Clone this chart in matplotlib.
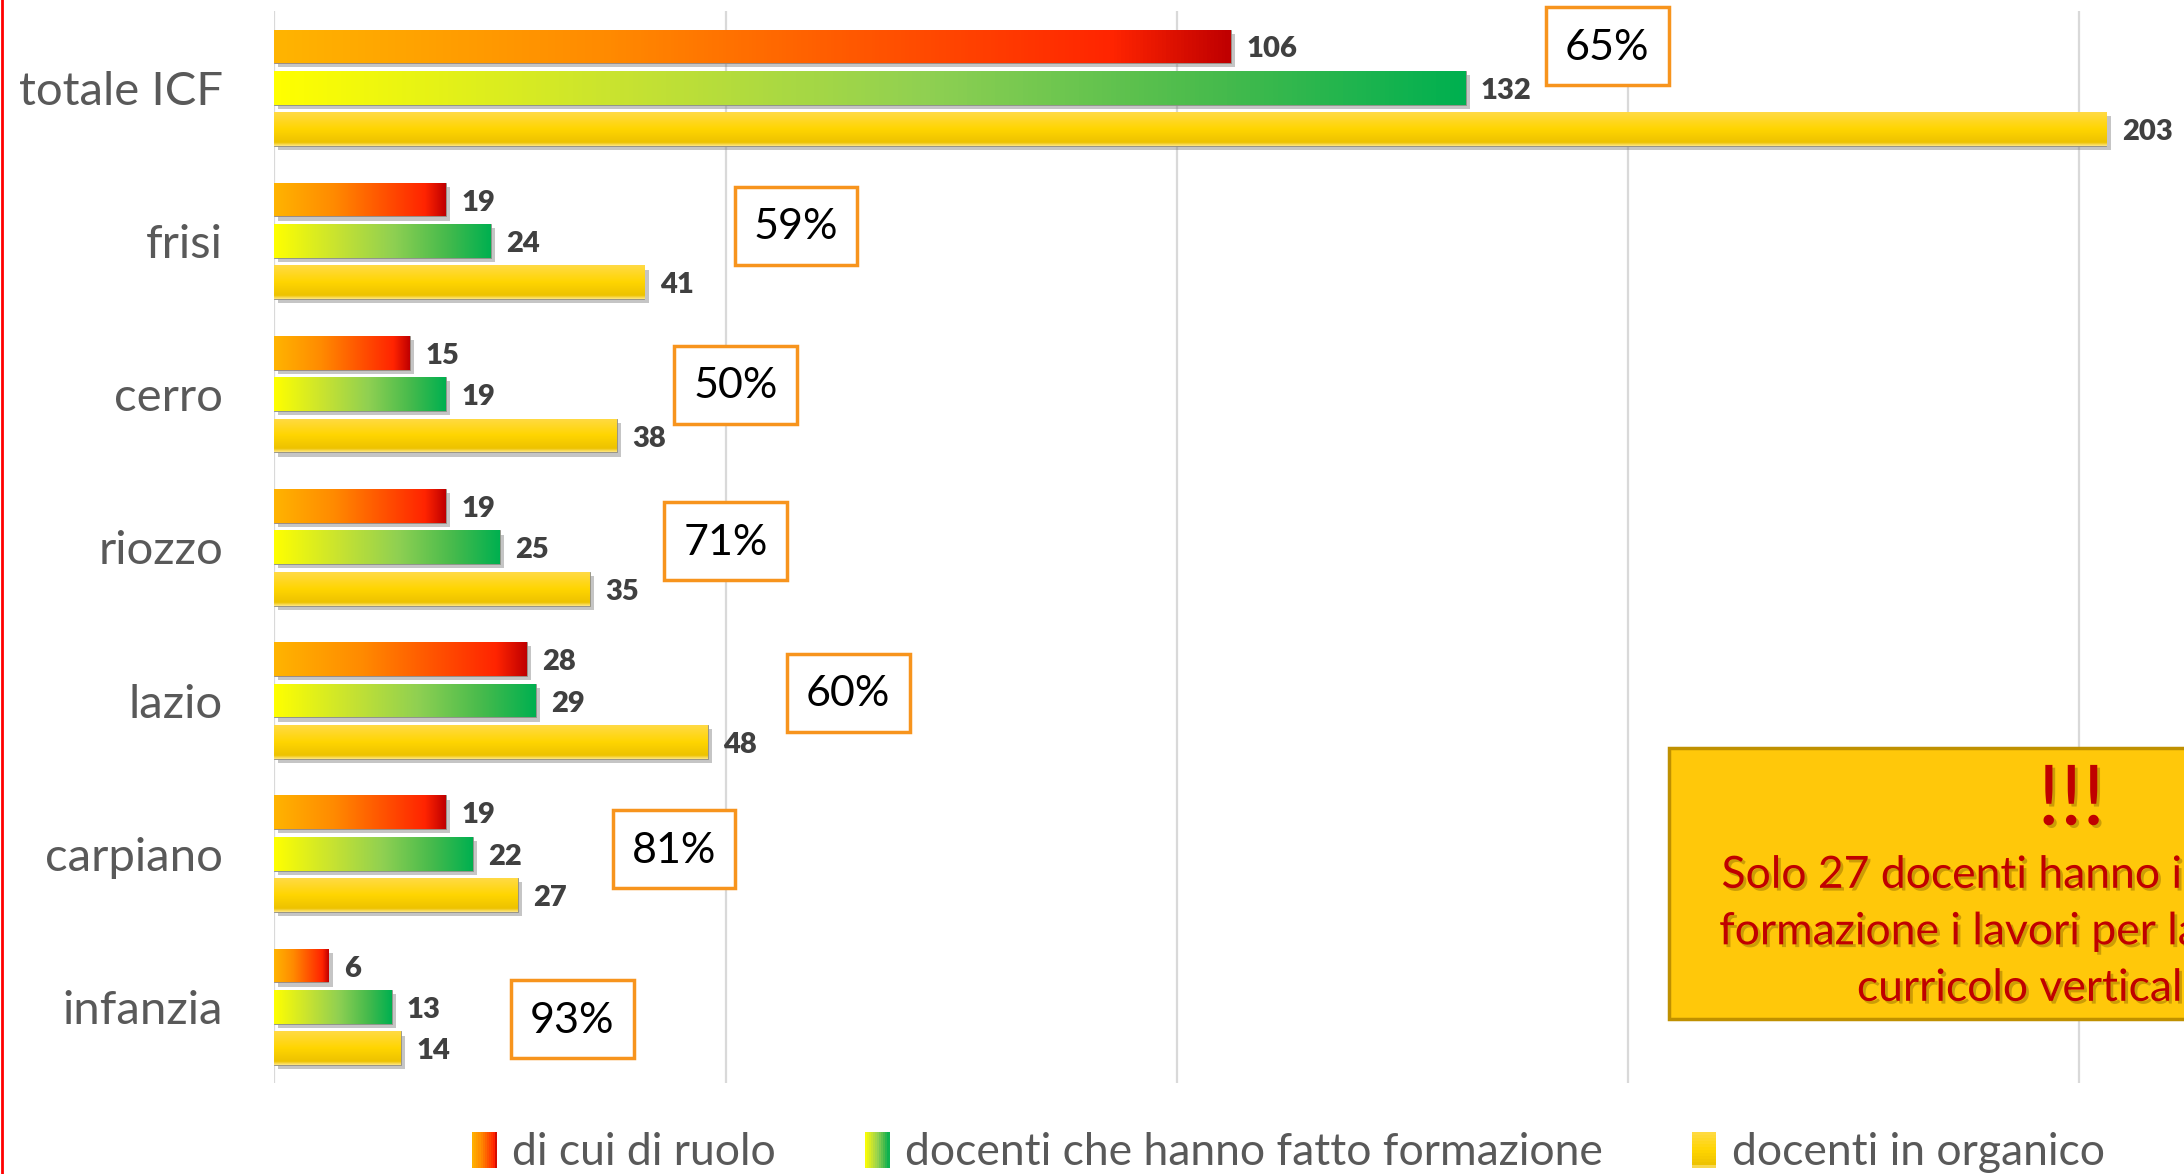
import numpy as np
import matplotlib
matplotlib.use("Agg")
import matplotlib.pyplot as plt
import matplotlib.patheffects as pe
from matplotlib.colors import LinearSegmentedColormap
from matplotlib.patches import Rectangle, Patch
from matplotlib.legend_handler import HandlerBase
from matplotlib.lines import Line2D

plt.rcParams['font.family'] = ['Lato', 'DejaVu Sans']

categorie = ['totale ICF', 'frisi', 'cerro', 'riozzo', 'lazio', 'carpiano', 'infanzia']
di_ruolo = [106, 19, 15, 19, 28, 19, 6]
formazione = [132, 24, 19, 25, 29, 22, 13]
organico = [203, 41, 38, 35, 48, 27, 14]
etichette = ['di cui di ruolo', 'docenti che hanno fatto formazione', 'docenti in organico']

# dove stanno i riquadri con le percentuali (centro x, centro y)
box_x = [147.7, 57.8, 51.1, 50.0, 63.6, 44.3, 33.0]
box_y = [-0.27, 0.90, 1.94, 2.96, 3.95, 4.97, 6.08]

nota = "Solo 27 docenti hanno inserito nella\nformazione i lavori per la stesura del\ncurricolo verticale ICF"

cmap_ruolo = LinearSegmentedColormap.from_list(
    'ruolo', [(0, '#FFB400'), (0.35, '#FF8A00'), (0.65, '#FF5000'), (0.88, '#FF2400'), (1, '#C00000')])
cmap_form = LinearSegmentedColormap.from_list(
    'form', [(0, '#FFFF00'), (0.3, '#C6E232'), (0.55, '#8FD052'), (0.8, '#45BA4C'), (1, '#00B050')])
cmap_org = LinearSegmentedColormap.from_list(
    'org', [(0, '#FFDA45'), (0.5, '#FFD500'), (0.9, '#EDC200'), (1, '#FFE680')])


class GradientHandler(HandlerBase):
    def __init__(self, cmap, vertical=False):
        super().__init__()
        self.cmap = cmap
        self.vertical = vertical

    def create_artists(self, legend, orig_handle, xdescent, ydescent,
                       width, height, fontsize, trans):
        n = 12
        arts = []
        for i in range(n):
            c = self.cmap((i + 0.5) / n)
            if self.vertical:
                r = Rectangle((-xdescent, -ydescent + height * (n - 1 - i) / n),
                              width, height / n, facecolor=c, edgecolor='none', transform=trans)
            else:
                r = Rectangle((-xdescent + width * i / n, -ydescent),
                              width / n + 0.3, height, facecolor=c, edgecolor='none', transform=trans)
            arts.append(r)
        return arts


fig = plt.figure(figsize=(21.84, 11.74), dpi=100)
ax = fig.add_axes([0.1256, 0.0771, 0.8744, 0.9134])

y = np.arange(len(categorie))
h = 0.22
off = 0.27
ombra = [pe.withSimplePatchShadow(offset=(3, -3), shadow_rgbFace='#7f7f7f', alpha=0.45)]

serie = [(di_ruolo, -off, cmap_ruolo, False),
         (formazione, 0, cmap_form, False),
         (organico, off, cmap_org, True)]

for valori, dy, cmap, verticale in serie:
    bars = ax.barh(y + dy, valori, height=h, color=cmap(0.5), zorder=2,
                   edgecolor='#8c8c8c', linewidth=0.6)
    for b, v in zip(bars, valori):
        b.set_path_effects(ombra)
        x0, y0 = b.get_x(), b.get_y()
        x1, y1 = x0 + b.get_width(), y0 + b.get_height()
        if verticale:
            grad = np.linspace(0, 1, 64).reshape(-1, 1)
        else:
            grad = np.linspace(0, 1, 256).reshape(1, -1)
        im = ax.imshow(grad, extent=(x0, x1, y1, y0), origin='upper', aspect='auto',
                       cmap=cmap, interpolation='bilinear', zorder=3)
        im.set_clip_path(b)
        ax.text(v + 1.7, b.get_y() + h / 2 + 0.02, str(v), ha='left', va='center',
                fontsize=21, fontweight='heavy', color='#404040', zorder=4)

# percentuali di docenti formati sul totale in organico
bw, bh = 13.6, 0.51
for f, o, cx, cy in zip(formazione, organico, box_x, box_y):
    ax.add_patch(Rectangle((cx - bw / 2, cy - bh / 2), bw, bh, facecolor='white',
                           edgecolor='#F7941D', lw=2.5, zorder=5, clip_on=False))
    ax.text(cx, cy + 0.01, f"{round(100 * f / o)}%", ha='center', va='center',
            fontsize=31, color='black', zorder=6)

# riquadro giallo con la nota
ax.add_patch(Rectangle((154.5, 4.31), 89.2, 1.77, facecolor='#FFC80A',
                       edgecolor='#BF9000', lw=2.5, zorder=5, clip_on=False))
testo_ombra = [pe.withSimplePatchShadow(offset=(2, -2), shadow_rgbFace='#6b4a00', alpha=0.35)]
ax.text(199.1, 4.66, '!!!', ha='center', va='center', fontsize=60, color='#C00000',
        zorder=6, clip_on=False, path_effects=testo_ombra)
ax.text(199.1, 5.51, nota, ha='center', va='center', fontsize=32, color='#C00000',
        linespacing=1.47, zorder=6, clip_on=False, path_effects=testo_ombra)

ax.set_xlim(0, 211.6)
ax.set_ylim(6.5, -0.5)
ax.set_xticks([0, 50, 100, 150, 200])
ax.set_yticks(y, categorie)
ax.grid(axis='x', color='#D9D9D9', lw=1.6)
ax.set_axisbelow(True)
ax.tick_params(axis='x', length=0, labelbottom=False)
ax.tick_params(axis='y', length=0, pad=37, labelsize=34, labelcolor='#595959')
for s in ax.spines.values():
    s.set_visible(False)

handles = [Patch(label=l) for l in etichette]
fig.legend(handles=handles, labels=etichette, loc='center', bbox_to_anchor=(0.59, 0.018),
           ncol=3, frameon=False, fontsize=32, labelcolor='#595959',
           handlelength=0.55, handleheight=0.85, handletextpad=0.35, columnspacing=2.0,
           handler_map={handles[0]: GradientHandler(cmap_ruolo),
                        handles[1]: GradientHandler(cmap_form),
                        handles[2]: GradientHandler(cmap_org, vertical=True)})

fig.add_artist(Line2D([0.0008, 0.0008], [0, 1], transform=fig.transFigure, color='#FF0000', lw=2))

fig.savefig('out.png', dpi=100)
